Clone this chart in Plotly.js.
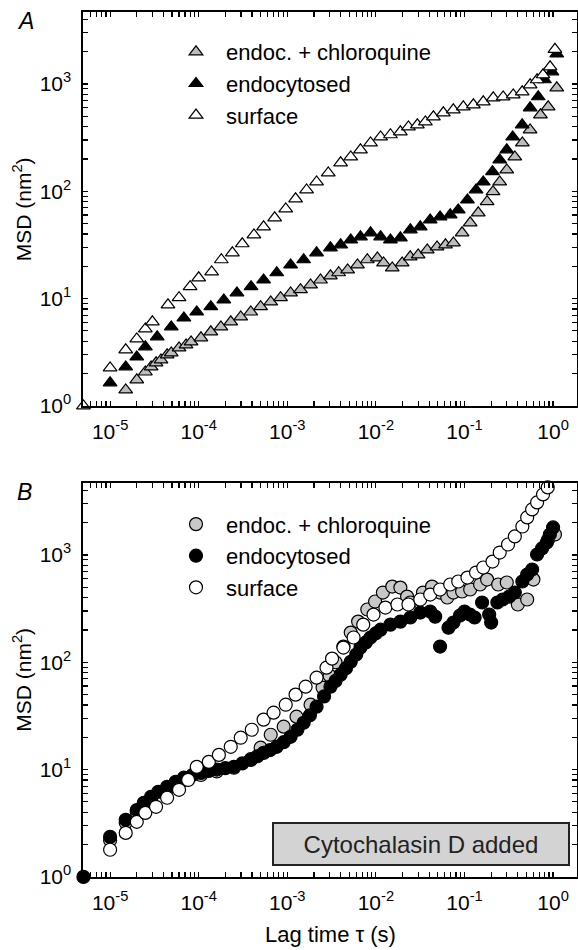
<!DOCTYPE html>
<html><head><meta charset="utf-8">
<script src="https://cdn.plot.ly/plotly-3.0.1.min.js"></script>
<style>html,body{margin:0;padding:0;background:#fff}#chart{width:578px;height:950px}</style>
</head><body><div id="chart"></div>
<script>
// ---------- Panel A (triangles) ----------
const lagA_chloro = [1.5e-5,2e-5,2.5e-5,2.9e-5,3.3e-5,3.75e-5,4.4e-5,4.9e-5,6e-5,7.2e-5,8.2e-5,1.06e-4,1.37e-4,1.78e-4,2.3e-4,2.98e-4,3.87e-4,5e-4,6.5e-4,8.4e-4,1.09e-3,1.41e-3,1.83e-3,2.37e-3,3.07e-3,3.8e-3,4.8e-3,6.2e-3,8e-3,1.04e-2,1.22e-2,1.53e-2,1.98e-2,2.44e-2,3e-2,3.8e-2,4.9e-2,6.1e-2,7.5e-2,9.4e-2,0.116,0.143,0.18,0.21,0.25,0.3,0.37,0.45,0.55,0.72,0.88,1.1];
const msdA_chloro = [1.41,1.75,2.07,2.31,2.52,2.68,2.99,3.12,3.47,3.7,3.95,4.31,4.9,5.45,6.07,6.75,7.5,8.4,9.3,10.2,11.3,12.1,13.4,14.9,16.3,17.4,18.5,20.6,23,23.9,21.5,19.3,21.5,24.5,25.5,28.4,30.3,31.7,33,41,50.8,63,80,99,122,158,209,282,373,515,612,920];

const lagA_endo = [1e-5,1.5e-5,2e-5,2.5e-5,3.4e-5,4.9e-5,6.8e-5,9.5e-5,1.37e-4,1.92e-4,2.7e-4,3.9e-4,5.4e-4,7.6e-4,1.09e-3,1.53e-3,2.14e-3,3.07e-3,4e-3,5.2e-3,6.7e-3,8.7e-3,1.13e-2,1.46e-2,1.89e-2,2.45e-2,3.17e-2,4.1e-2,5.3e-2,6.9e-2,8.5e-2,0.108,0.135,0.163,0.207,0.25,0.3,0.35,0.448,0.551,0.68,0.8,0.97,1.1];
const msdA_endo = [1.64,2.31,2.86,3.55,4.4,5.45,6.6,7.5,8.4,9.7,11.3,12.9,14.9,17.4,20.6,23,26.7,29.7,31.7,35.2,37.6,41,37.6,35.2,36.8,43.7,46.6,54,57.7,60.3,67,83,103,122,152,196,243,321,416,599,759,1093,1297,1900];

const lagA_surf = [5e-6,1e-5,1.5e-5,2e-5,2.5e-5,3e-5,4.5e-5,6e-5,8e-5,1e-4,1.4e-4,1.8e-4,2.4e-4,3.1e-4,4.2e-4,5.4e-4,7.2e-4,9.6e-4,1.24e-3,1.65e-3,2.14e-3,2.9e-3,4e-3,5.2e-3,6.7e-3,8.7e-3,1.13e-2,1.46e-2,1.89e-2,2.33e-2,2.94e-2,3.62e-2,4.46e-2,5.77e-2,7.48e-2,9.7e-2,0.126,0.163,0.211,0.273,0.355,0.448,0.551,0.66,0.77,0.925,1.05];
const msdA_surf = [1.0,2.26,3.33,4.21,5.22,6.07,8.74,10.2,12.9,15.6,17.7,23.0,26.7,32.4,39.2,46.6,56.5,68.5,85,103,122,148,184,209,243,282,321,336,358,398,416,443,494,538,574,612,639,681,742,757,790,844,981,1093,1217,1443,2100];

// ---------- Panel B (circles) ----------
const lagB_chloro = [1e-5,1.5e-5,2e-5,2.9e-5,4.4e-5,6.8e-5,1.06e-4,1.6e-4,2.5e-4,3.87e-4,5e-4,6.5e-4,9.1e-4,1.27e-3,1.83e-3,2.5e-3,3.0e-3,3.5e-3,4.3e-3,5.2e-3,6.3e-3,8e-3,9.8e-3,1.2e-2,1.53e-2,1.89e-2,2.25e-2,2.45e-2,3.4e-2,4.3e-2,5.3e-2,6.4e-2,7.5e-2,9.4e-2,0.116,0.15,0.18,0.24,0.3,0.4,0.51,0.6,0.88,1.05];
const msdB_chloro = [2.2,3.2,4.0,5.3,6.6,8.0,8.9,9.6,10.4,12.5,16,21.1,25.1,31.1,40.2,58,75,100,140,189,239,310,368,446,507,496,409,360,446,507,446,401,446,456,476,530,589,530,553,345,384,589,1393,1550];

const lagB_endo = [5e-6,1e-5,1.5e-5,2e-5,2.4e-5,2.9e-5,3.5e-5,4.4e-5,5.5e-5,6.8e-5,8.5e-5,1.06e-4,1.3e-4,1.6e-4,2e-4,2.5e-4,3.1e-4,3.87e-4,4.6e-4,5.4e-4,6.4e-4,7.6e-4,9.1e-4,1.09e-3,1.3e-3,1.53e-3,1.8e-3,2.14e-3,2.6e-3,3.07e-3,3.5e-3,4e-3,4.6e-3,5.2e-3,6e-3,6.7e-3,7.7e-3,8.7e-3,1e-2,1.13e-2,1.46e-2,1.89e-2,2.45e-2,3.17e-2,4.1e-2,4.67e-2,5.3e-2,6.6e-2,7.5e-2,8.9e-2,0.1,0.115,0.13,0.158,0.19,0.2,0.235,0.27,0.32,0.37,0.45,0.51,0.58,0.66,0.75,0.85,0.92,1.0];
const msdB_endo = [1.0,2.36,3.4,4.2,4.9,5.57,6.2,6.9,7.7,8.4,8.9,9.3,9.7,10,10.3,10.6,11.4,12.3,13.3,14.3,15.2,16.3,18,20.2,23.5,27.3,32,38.5,48,59.2,67,76.6,88,101,118,137,153,170,186,201,224,239,261,290,297,266,140,210,234,272,297,278,261,360,278,234,360,384,409,446,565,656,731,1009,1148,1306,1549,1803];

const lagB_surf = [1e-5,1.5e-5,2e-5,2.5e-5,3.3e-5,4.4e-5,6e-5,7.6e-5,9.5e-5,1.3e-4,1.69e-4,2.3e-4,2.98e-4,3.97e-4,5.4e-4,7e-4,9.6e-4,1.24e-3,1.61e-3,2.14e-3,2.77e-3,3.2e-3,4.3e-3,5.6e-3,7.2e-3,9.4e-3,1.28e-2,1.75e-2,2.33e-2,3.17e-2,4.1e-2,5.3e-2,6.9e-2,8.5e-2,0.108,0.135,0.163,0.207,0.25,0.31,0.37,0.45,0.51,0.58,0.66,0.77,0.87,0.92];
const msdB_surf = [1.79,2.57,3.26,3.95,4.5,5.46,6.48,8.0,10.6,11.8,13.7,16.3,19.8,23.5,29.2,33.9,40.2,49.9,59.2,71.8,89,108,137,170,224,278,323,345,345,384,427,476,530,565,615,685,763,867,1052,1250,1486,1840,2233,2653,3083,3658,4253,4840];

// ---------- labels ----------
const seriesNames = ['endoc. + chloroquine','endocytosed','surface'];
const xMajor = [1e-5,1e-4,1e-3,1e-2,1e-1,1];
const xMajorText = ['10<sup>-5</sup>','10<sup>-4</sup>','10<sup>-3</sup>','10<sup>-2</sup>','10<sup>-1</sup>','10<sup>0</sup>'];
const yMajor = [1,10,100,1000];
const yMajorText = ['10<sup>0</sup>','10<sup>1</sup>','10<sup>2</sup>','10<sup>3</sup>'];

// tick arrays: majors (labelled) followed by unlabelled log minor ticks
const xTicks = xMajor.slice(), xTickText = xMajorText.slice();
const yTicks = yMajor.slice(), yTickText = yMajorText.slice();
for (let k=-6;k<=0;k++) for (let m=2;m<=9;m++){ const v=m*Math.pow(10,k); if(v>=5.1e-6 && v<=1.8){ xTicks.push(v); xTickText.push(''); } }
for (let k=0;k<=3;k++) for (let m=2;m<=9;m++){ const v=m*Math.pow(10,k); if(v<=4600){ yTicks.push(v); yTickText.push(''); } }

const FONT = "'Liberation Sans', Arial, Helvetica, sans-serif";
const XR = [-5.306,0.27], YR = [-0.001,3.67];

function mk(x,y,name,sym,size,fill,xa,ya,leg,grp){
  return {x:x,y:y,name:name,type:'scatter',mode:'markers',xaxis:xa,yaxis:ya,legend:leg,legendgroup:grp,cliponaxis:false,
    marker:{symbol:sym,size:size,color:fill,line:{color:'#000',width:1.2}},hoverinfo:'x+y'};
}
const triSize=12, cirSize=13;
const traces = [
  mk(lagA_chloro,msdA_chloro,seriesNames[0],'triangle-up',triSize,'#bdbdbd','x','y','legend','a1'),
  mk(lagA_endo,msdA_endo,seriesNames[1],'triangle-up',triSize,'#000000','x','y','legend','a2'),
  mk(lagA_surf,msdA_surf,seriesNames[2],'triangle-up',triSize,'#ffffff','x','y','legend','a3'),
  mk(lagB_chloro,msdB_chloro,seriesNames[0],'circle',cirSize,'#c8c8c8','x2','y2','legend2','b1'),
  mk(lagB_endo,msdB_endo,seriesNames[1],'circle',cirSize,'#000000','x2','y2','legend2','b2'),
  mk(lagB_surf,msdB_surf,seriesNames[2],'circle',cirSize,'#ffffff','x2','y2','legend2','b3')
];

const TF = {family:FONT,size:21,color:'#000'};
function xax(anchor){
  return {type:'log',range:XR,domain:[0,1],anchor:anchor,showline:true,linecolor:'#000',linewidth:1.6,
    mirror:'ticks',ticks:'inside',ticklen:5,tickwidth:1.2,tickcolor:'#000',tickmode:'array',tickvals:xTicks,ticktext:xTickText,
    tickfont:TF,ticklabelstandoff:6,showgrid:false,zeroline:false,fixedrange:true};
}
function yax(anchor,domain){
  return {type:'log',range:YR,domain:domain,anchor:anchor,showline:true,linecolor:'#000',linewidth:1.6,
    mirror:'ticks',ticks:'inside',ticklen:5,tickwidth:1.2,tickcolor:'#000',tickmode:'array',tickvals:yTicks,ticktext:yTickText,
    tickfont:TF,ticklabelstandoff:6,showgrid:false,zeroline:false,fixedrange:true};
}
const legBase = {xanchor:'left',yanchor:'top',font:{family:FONT,size:22,color:'#000'},itemwidth:50,tracegroupgap:0,bgcolor:'rgba(0,0,0,0)',borderwidth:0};

const layout = {
  width:578,height:950,margin:{l:83,r:1,t:12,b:73},paper_bgcolor:'#fff',plot_bgcolor:'#fff',
  font:{family:FONT,color:'#000'},showlegend:true,
  xaxis:xax('y'), yaxis:yax('x',[0.5445,1]),
  xaxis2:xax('y2'), yaxis2:yax('x2',[0,0.4555]),
  legend:Object.assign({x:0.168,y:0.978},legBase),
  legend2:Object.assign({x:0.168,y:0.432},legBase),
  annotations:[
    {text:'MSD (nm<sup>2</sup>)',textangle:-90,xref:'paper',yref:'paper',x:0,xshift:-61,y:0.772,xanchor:'center',yanchor:'middle',showarrow:false,font:{family:FONT,size:21,color:'#000'}},
    {text:'MSD (nm<sup>2</sup>)',textangle:-90,xref:'paper',yref:'paper',x:0,xshift:-61,y:0.228,xanchor:'center',yanchor:'middle',showarrow:false,font:{family:FONT,size:21,color:'#000'}},
    {text:'Lag time τ (s)',xref:'paper',yref:'paper',x:0.5,y:-0.067,xanchor:'center',yanchor:'middle',showarrow:false,font:{family:FONT,size:22,color:'#000'}},
    {text:'<i>A</i>',xref:'paper',yref:'paper',x:-0.117,y:0.9896,xanchor:'center',yanchor:'middle',showarrow:false,font:{family:FONT,size:23,color:'#000'}},
    {text:'<i>B</i>',xref:'paper',yref:'paper',x:-0.119,y:0.445,xanchor:'center',yanchor:'middle',showarrow:false,font:{family:FONT,size:23,color:'#000'}},
    {text:'Cytochalasin D added',xref:'paper',yref:'paper',x:0.684,y:0.0382,xanchor:'center',yanchor:'middle',showarrow:false,
      width:292,height:38,bgcolor:'#d3d3d3',bordercolor:'#222',borderwidth:2,borderpad:1,font:{family:FONT,size:24,color:'#222'}}
  ]
};
Plotly.newPlot('chart',traces,layout,{displayModeBar:false,staticPlot:true});
</script></body></html>
